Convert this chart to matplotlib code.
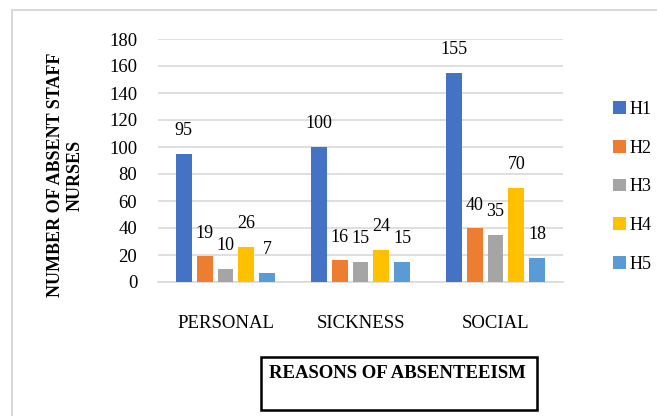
import matplotlib
matplotlib.use("Agg")
import matplotlib.pyplot as plt
from matplotlib.patches import Rectangle
import numpy as np

categories = ["PERSONAL", "SICKNESS", "SOCIAL"]
series_names = ["H1", "H2", "H3", "H4", "H5"]
h1 = [95, 100, 155]
h2 = [19, 16, 40]
h3 = [10, 15, 35]
h4 = [26, 24, 70]
h5 = [7, 15, 18]
colors = ["#4472C4", "#ED7D31", "#A5A5A5", "#FFC000", "#5B9BD5"]

plt.rcParams['font.family'] = ['Liberation Serif', 'DejaVu Serif']

W, H = 657, 416
fig = plt.figure(figsize=(W / 100, H / 100), dpi=100)

# outer chart border (right / bottom run off the image)
fig.patches.append(Rectangle((12 / W, -0.1), 1.2, 1 - 10 / H + 0.1,
                             transform=fig.transFigure, fill=False,
                             edgecolor="#D9D9D9", linewidth=1.5))

ax = fig.add_axes([158 / W, 1 - 282 / H, (563 - 158) / W, (282 - 39) / H])

x = np.arange(len(categories))
step = 0.155
width = 0.118
all_series = [h1, h2, h3, h4, h5]
for i, (vals, name, c) in enumerate(zip(all_series, series_names, colors)):
    pos = x + (i - 2) * step
    bars = ax.bar(pos, vals, width, color=c, label=name, zorder=3)
    for rect, v in zip(bars, vals):
        ax.annotate(str(v),
                    xy=(rect.get_x() + rect.get_width() / 2, v),
                    xytext=(0, 23), textcoords="offset pixels",
                    ha='center', va='center', fontsize=13)

ax.set_xlim(-0.5, 2.5)
ax.set_ylim(0, 180)
ax.set_yticks(range(0, 181, 20))
ax.set_xticks(x)
ax.set_xticklabels(categories)
ax.tick_params(axis='both', length=0, labelsize=13.5)
ax.tick_params(axis='x', pad=24)
ax.tick_params(axis='y', pad=15)
ax.grid(axis='y', color="#D9D9D9", linewidth=1.2, zorder=0)
for s in ['top', 'right', 'left']:
    ax.spines[s].set_visible(False)
ax.spines['bottom'].set_color("#D9D9D9")
ax.spines['bottom'].set_linewidth(1.2)

fig.text(65 / W, 1 - 175 / H, "NUMBER OF ABSENT STAFF\nNURSES",
         rotation=90, ha='center', va='center', fontsize=13,
         fontweight='bold', linespacing=1.2)

leg = ax.legend(loc='upper left', bbox_to_anchor=(613 / W, 1 - 101 / H),
                bbox_transform=fig.transFigure, frameon=False,
                fontsize=13, handlelength=0.7, handleheight=0.7,
                handletextpad=0.2, labelspacing=1.2,
                borderpad=0, borderaxespad=0)

# x-axis title in a box
fig.patches.append(Rectangle((261 / W, 1 - 410 / H), 276 / W, 53 / H,
                             transform=fig.transFigure, fill=False,
                             edgecolor="black", linewidth=1.8))
fig.text(397 / W, 1 - 374 / H, "REASONS OF ABSENTEEISM", ha='center',
         va='center', fontsize=13.5, fontweight='bold')

plt.savefig("out.png", dpi=100)
